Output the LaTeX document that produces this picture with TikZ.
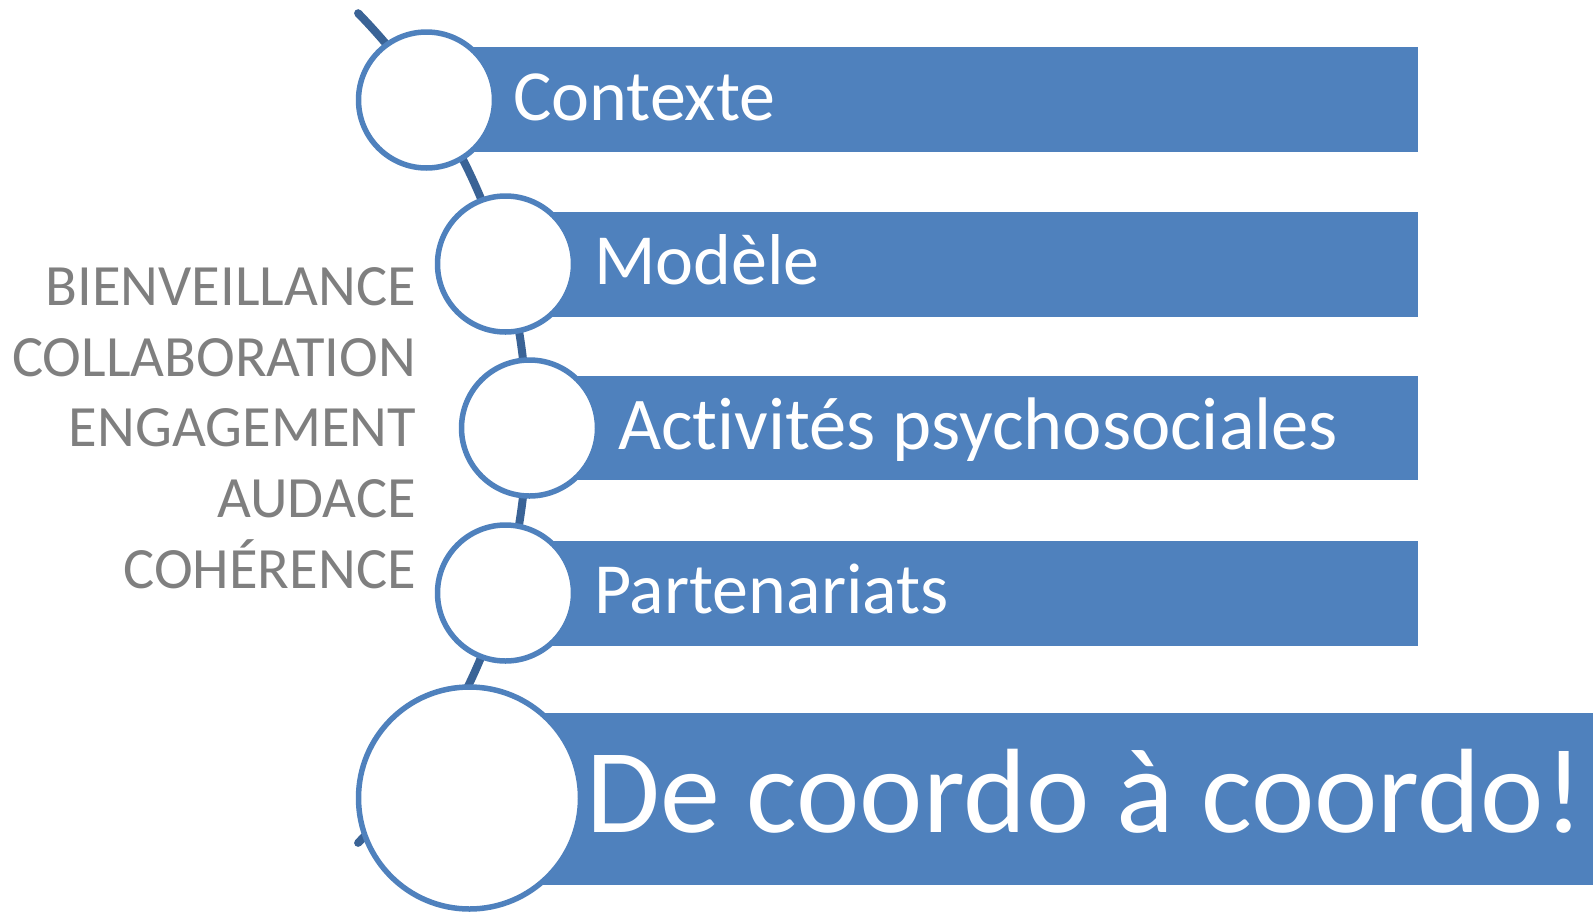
\documentclass[tikz,border=0pt]{standalone}
\usepackage{fontspec}
\setmainfont{Carlito}[Ligatures={NoCommon}]
\definecolor{acc}{RGB}{79,129,189}
\definecolor{lineblue}{RGB}{58,99,150}
\definecolor{greytxt}{RGB}{127,127,127}
\begin{document}
\begin{tikzpicture}[x=1pt,y=-1pt,
  bar/.style={fill=acc, draw=none, anchor=north west, inner sep=0pt, outer sep=0pt},
  circ/.style={circle, draw=acc, line width=5.5pt, fill=white, inner sep=0pt},
  bartext/.style={text=white, anchor=base west, inner sep=0pt, font=\fontsize{72}{86}\selectfont},
  bigtext/.style={text=white, anchor=base west, inner sep=0pt, font=\fontsize{120}{144}\selectfont},
  value/.style={text=greytxt, anchor=base east, inner sep=0pt, font=\fontsize{58.5}{70}\selectfont},
  spine/.style={draw=lineblue, line width=8pt, line cap=round}]
\useasboundingbox (0,0) rectangle (1593,911);
% spine arc
\coordinate (arcS) at (358.1,13.2);
\draw[spine] (arcS) arc[start angle=44.3, end angle=-44.3, radius=594pt];
% bars
\node[bar, minimum width=992pt, minimum height=105pt] (b1) at (426,47) {};
\node[bar, minimum width=913pt, minimum height=105pt] (b2) at (505,211.5) {};
\node[bar, minimum width=889pt, minimum height=104pt] (b3) at (529,376) {};
\node[bar, minimum width=913pt, minimum height=105pt] (b4) at (505,540.5) {};
\node[bar, minimum width=1124pt, minimum height=172pt] (b5) at (469,713) {};
% circles
\node[circ, minimum size=136pt] (c1) at (426.5,100) {};
\node[circ, minimum size=136pt] (c2) at (505.5,264) {};
\node[circ, minimum size=136pt] (c3) at (529.5,428) {};
\node[circ, minimum size=136pt] (c4) at (505.5,593) {};
\node[circ, minimum size=222pt] (c5) at (469.5,798) {};
% bar texts
\node[bartext] (t1) at (513,120) {Contexte};
\node[bartext] (t2) at (594,284) {Modèle};
\node[bartext, font=\fontsize{74.5}{89}\selectfont] (t3) at (618,449) {Activités psychosociales};
\node[bartext] (t4) at (594,613) {Partenariats};
\node[bigtext] (t5) at (586,832) {De coordo à coordo!};
% values
\node[value] (v1) at (416,305) {BIENVEILLANCE};
\node[value] (v2) at (416,376) {COLLABORATION};
\node[value] (v3) at (416,446) {ENGAGEMENT};
\node[value] (v4) at (416,517) {AUDACE};
\node[value] (v5) at (416,588) {COHÉRENCE};
\end{tikzpicture}
\end{document}
